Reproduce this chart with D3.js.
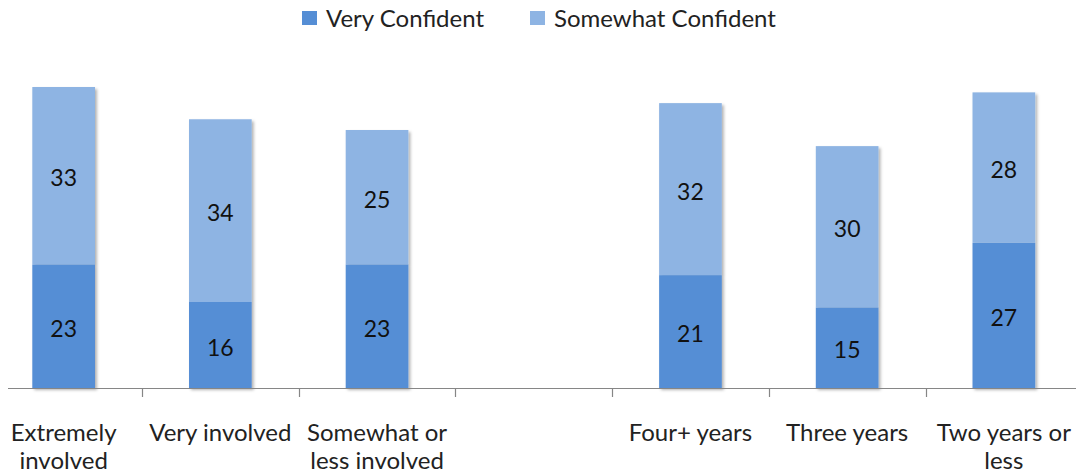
<!DOCTYPE html>
<html>
<head>
<meta charset="utf-8">
<script src="https://cdn.jsdelivr.net/npm/d3@7/dist/d3.min.js"></script>
<style>
  html, body { margin: 0; padding: 0; background: #fff; }
  svg { display: block; font-family: Lato, "Open Sans", sans-serif; }
</style>
</head>
<body>
<svg id="chart" width="1076" height="476"></svg>
<script>
// ---- data ----
const categories = ["Extremely\ninvolved", "Very involved", "Somewhat or\nless involved", "", "Four+ years", "Three years", "Two years or\nless"];
const veryConfident = [23, 16, 23, null, 21, 15, 27];
const somewhatConfident = [33, 34, 25, null, 32, 30, 28];
const seriesNames = ["Very Confident", "Somewhat Confident"];
const seriesColors = ["#558ED5", "#8EB4E3"];

// ---- layout ----
const W = 1076, H = 476;
const baseY = 388;
const svg = d3.select("#chart");

const keys = categories.map((c, i) => "k" + i);
const x = d3.scaleBand().domain(keys).range([-14.7, 1082.2]).paddingInner(0.6).paddingOuter(0.3);
const y = d3.scaleLinear().domain([0, 60]).range([baseY, 65.5]);

const defs = svg.append("defs");
const f = defs.append("filter").attr("id", "shadow").attr("x", "-20%").attr("y", "-20%").attr("width", "150%").attr("height", "150%");
f.append("feDropShadow").attr("dx", 2).attr("dy", 2).attr("stdDeviation", 1.6).attr("flood-color", "#000").attr("flood-opacity", 0.3);

const rows = keys.map((k, i) => ({ key: k, v: [veryConfident[i], somewhatConfident[i]] }));

// bars
rows.forEach(r => {
  if (r.v[0] == null) return;
  const g = svg.append("g").attr("filter", "url(#shadow)");
  let acc = 0;
  r.v.forEach((val, si) => {
    g.append("rect")
      .attr("x", x(r.key))
      .attr("width", x.bandwidth())
      .attr("y", y(acc + val))
      .attr("height", y(acc) - y(acc + val))
      .attr("fill", seriesColors[si]);
    acc += val;
  });
});

// value labels
rows.forEach(r => {
  if (r.v[0] == null) return;
  let acc = 0;
  r.v.forEach((val) => {
    const cy = (y(acc) + y(acc + val)) / 2;
    svg.append("text")
      .attr("x", x(r.key) + x.bandwidth() / 2)
      .attr("y", cy + 10.5)
      .attr("text-anchor", "middle")
      .attr("font-size", 23)
      .attr("fill", "#111")
      .text(val);
    acc += val;
  });
});

// axis
const axisG = svg.append("g").attr("transform", `translate(0,${baseY})`);
axisG.append("line").attr("x1", 8).attr("x2", W).attr("y1", 0.5).attr("y2", 0.5)
  .attr("stroke", "#868686").attr("stroke-width", 1.2);
for (let i = 1; i < keys.length; i++) {
  const bx = Math.round(x.range()[0] + i * x.step()) + 0.5;
  axisG.append("line").attr("x1", bx).attr("x2", bx).attr("y1", 0).attr("y2", 9)
    .attr("stroke", "#868686").attr("stroke-width", 1.2);
}
keys.forEach((k, i) => {
  const lines = categories[i].split("\n");
  const t = axisG.append("text")
    .attr("text-anchor", "middle")
    .attr("font-size", 24)
    .attr("fill", "#222");
  lines.forEach((ln, li) => {
    t.append("tspan").attr("x", x(k) + x.bandwidth() / 2).attr("y", 53 + li * 28).text(ln);
  });
});

// legend
const legendX = [302, 530];
seriesNames.forEach((name, i) => {
  svg.append("rect").attr("x", legendX[i]).attr("y", 11).attr("width", 15).attr("height", 14).attr("fill", seriesColors[i]);
  svg.append("text").attr("x", legendX[i] + 24).attr("y", 26.5).attr("font-size", 24).attr("fill", "#222").text(name);
});
</script>
</body>
</html>
